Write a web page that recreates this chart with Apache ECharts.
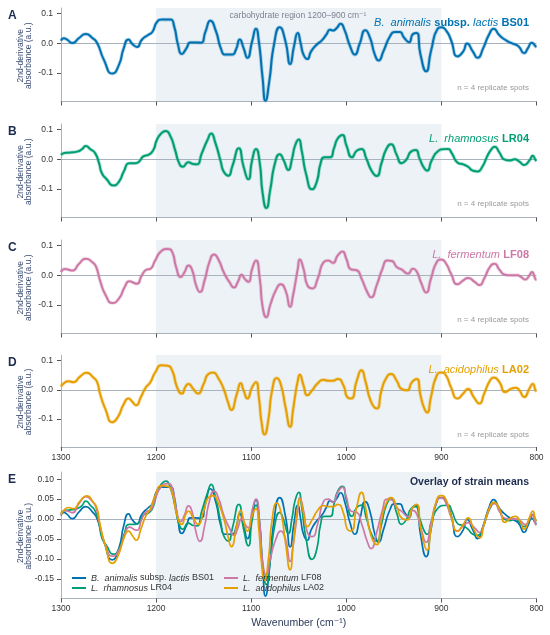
<!DOCTYPE html>
<html>
<head>
<meta charset="utf-8">
<script src="https://cdn.jsdelivr.net/npm/echarts@6/dist/echarts.min.js"></script>
<style>
  html, body { margin: 0; padding: 0; background: #fff; }
  #main { width: 550px; height: 635px; }
</style>
</head>
<body>
<div id="main"></div>
<script>
// 2nd-derivative FTIR means (wavenumber in cm-1)
const wnBS01 = [1300,1297,1294,1288,1281,1274,1267,1262,1255,1246,1239,1234,1229,1225,1220,1215,1208,1204,1199,1194,
  1185,1181,1177,1173,1168,1164,1159,1153,1148,1143,1137,1132,1127,1120,1116,1112,1108,1104,1099,1095,
  1092,1088,1085,1081,1076,1070,1064,1059,1055,1051,1048,1045,1041,1037,1031,1026,1021,1017,1014,1010,
  1006,1002,996,991,986,980,975,970,966,961,954,949,944,939,934,930,926,922,916,911,
  904,900,895,890,883,877,873,867,862,856,850,845,839,832,825,819,813,809,805,801,800];
const absBS01 = [0.009,0.017,0.013,0.001,0.018,0.031,0.018,0.001,-0.055,-0.102,-0.072,-0.016,0.013,-0.002,-0.012,0.012,0.029,0.038,0.072,0.080,
  0.080,0.057,-0.004,-0.036,-0.016,0.003,0.003,0.002,0.040,0.076,0.040,-0.016,-0.038,-0.038,-0.021,0.013,-0.016,-0.049,0.007,0.049,
  0.007,-0.117,-0.193,-0.128,-0.004,0.054,0.007,-0.070,-0.010,0.035,0.000,-0.038,-0.053,-0.027,-0.004,0.009,0.029,0.046,0.043,0.052,
  0.066,0.046,-0.010,-0.038,-0.002,0.044,0.018,-0.038,-0.058,-0.027,0.024,0.038,0.038,0.018,0.004,0.031,0.035,-0.038,-0.094,-0.027,
  0.049,0.054,0.043,0.012,-0.044,-0.027,-0.001,-0.027,-0.049,-0.016,0.029,0.049,0.027,0.010,-0.001,-0.010,-0.033,-0.016,0.002,-0.010,-0.012];

const wnLR04 = [1300,1295,1290,1283,1278,1274,1269,1264,1260,1257,1252,1245,1239,1234,1228,1222,1218,1213,1208,1203,
  1199,1194,1190,1185,1180,1176,1172,1166,1161,1157,1152,1146,1142,1138,1132,1129,1124,1120,1113,1108,
  1103,1099,1095,1091,1088,1084,1080,1075,1070,1066,1061,1057,1054,1050,1047,1042,1036,1031,1027,1023,
  1017,1013,1009,1004,1000,994,989,984,979,973,968,963,958,953,947,942,937,932,927,923,
  918,915,910,903,898,893,889,883,877,872,867,862,857,852,848,844,839,834,828,823,818,813,807,804,801,800];
const absLR04 = [0.015,0.022,0.023,0.026,0.034,0.045,0.034,0.020,-0.013,-0.047,-0.067,-0.088,-0.075,-0.041,-0.013,-0.013,-0.008,0.011,0.015,0.031,
  0.067,0.089,0.095,0.078,0.031,-0.011,-0.025,-0.010,-0.016,-0.017,0.020,0.065,0.087,0.059,-0.008,-0.041,-0.055,-0.025,0.037,-0.025,
  -0.067,-0.002,0.035,-0.013,-0.114,-0.164,-0.103,-0.013,0.017,-0.002,-0.036,0.003,0.045,0.067,0.031,-0.053,-0.101,-0.075,-0.013,0.007,
  0.007,0.037,0.070,0.082,0.048,0.007,0.029,0.035,0.003,-0.041,-0.056,-0.013,0.034,0.051,0.015,-0.013,-0.002,0.026,0.031,0.003,
  -0.030,-0.038,-0.002,0.029,0.034,0.035,0.020,-0.011,-0.017,-0.025,-0.038,-0.041,-0.025,0.009,0.031,0.042,0.023,0.000,-0.004,0.000,-0.008,-0.019,-0.002,0.012,-0.002,-0.005];

const wnLF08 = [1300,1296,1292,1288,1281,1274,1267,1263,1259,1253,1246,1239,1233,1228,1223,1220,1215,1210,1206,1201,
  1195,1188,1183,1179,1174,1170,1166,1162,1158,1154,1149,1144,1139,1134,1129,1123,1118,1114,1110,1107,
  1103,1099,1095,1091,1088,1084,1080,1074,1069,1064,1059,1056,1054,1051,1049,1045,1041,1036,1030,1024,
  1019,1014,1009,1004,1000,995,989,984,978,974,968,962,957,952,947,942,935,930,926,921,
  916,911,905,900,895,890,883,877,872,865,860,855,849,844,839,833,827,820,816,812,807,805,801,800];
const absLF08 = [0.011,0.021,0.019,0.016,0.039,0.056,0.044,0.028,-0.017,-0.067,-0.093,-0.078,-0.039,-0.020,-0.026,-0.028,0.000,0.019,0.022,0.050,
  0.080,0.089,0.078,0.028,-0.006,0.011,0.033,0.017,-0.033,-0.056,-0.017,0.044,0.070,0.050,0.011,-0.022,-0.041,-0.022,0.002,-0.011,
  -0.022,0.022,0.050,-0.011,-0.106,-0.141,-0.100,-0.050,-0.030,-0.050,-0.106,-0.067,-0.033,0.022,0.053,0.022,-0.033,-0.044,-0.011,0.044,
  0.050,0.042,0.067,0.080,0.056,0.020,0.017,-0.011,-0.056,-0.074,-0.033,0.022,0.050,0.048,0.028,0.020,0.006,0.022,0.013,-0.028,
  -0.058,-0.011,0.044,0.053,0.039,0.006,-0.030,-0.017,-0.009,-0.022,-0.033,-0.011,0.028,0.039,0.019,0.002,0.000,0.000,-0.006,-0.014,0.002,0.011,-0.013,-0.015];

const wnLA02 = [1300,1297,1292,1287,1280,1273,1266,1262,1259,1253,1246,1240,1234,1229,1225,1221,1216,1211,1206,1201,
  1194,1188,1183,1178,1173,1169,1166,1161,1156,1150,1145,1140,1135,1129,1124,1121,1115,1111,1108,1104,
  1099,1095,1092,1089,1086,1082,1078,1073,1069,1064,1059,1056,1054,1051,1049,1045,1041,1036,1030,1024,
  1019,1014,1009,1003,999,995,989,984,980,974,968,963,958,953,947,942,936,931,926,922,
  918,915,911,905,900,895,890,883,877,872,866,860,855,849,845,839,833,827,822,818,813,807,804,801,800];
const absLA02 = [0.011,0.022,0.029,0.026,0.045,0.058,0.042,0.026,-0.013,-0.069,-0.111,-0.092,-0.049,-0.030,-0.041,-0.053,-0.025,0.007,0.026,0.059,
  0.084,0.082,0.065,0.009,-0.013,0.011,0.020,0.003,-0.013,0.020,0.054,0.059,0.042,0.003,-0.047,-0.069,-0.013,0.022,-0.002,-0.030,
  0.009,0.026,-0.025,-0.114,-0.153,-0.103,-0.002,0.040,0.020,-0.058,-0.127,-0.069,-0.025,0.031,0.051,0.015,-0.019,-0.002,0.022,0.034,
  0.031,0.031,0.037,0.015,-0.025,-0.030,0.031,0.067,0.031,-0.041,-0.064,-0.002,0.040,0.054,0.031,0.003,-0.002,0.026,0.037,-0.019,
  -0.064,-0.078,-0.025,0.048,0.059,0.048,0.009,-0.030,-0.013,0.003,-0.025,-0.047,-0.013,0.031,0.042,0.026,-0.008,0.003,0.007,-0.002,-0.025,0.007,0.020,-0.002,-0.005];

const xTicks = [1300, 1200, 1100, 1000, 900, 800];
const yTicksPanel = [-0.1, 0, 0.1];
const yTicksOverlay = [-0.15, -0.1, -0.05, 0, 0.05, 0.1];
const carbRegion = [1200, 900];
const panelLetters = ['A', 'B', 'C', 'D', 'E'];

const FONT = '"Liberation Sans", Arial, "DejaVu Sans", sans-serif';
const AXIS_COLOR = '#aab2bd';
const SHADE = '#edf2f6';

const strains = [
  { key: 'BS01', wn: wnBS01, ab: absBS01, color: '#0072B2',
    title: '{i|B.  animalis} {b|subsp.} {i|lactis} {b|BS01}',
    legend: '{i|B.  animalis} {n|subsp.} {i|lactis} {n|BS01}' },
  { key: 'LR04', wn: wnLR04, ab: absLR04, color: '#009E73',
    title: '{i|L.  rhamnosus} {b|LR04}',
    legend: '{i|L.  rhamnosus} {n|LR04}' },
  { key: 'LF08', wn: wnLF08, ab: absLF08, color: '#CC79A7',
    title: '{i|L.  fermentum} {b|LF08}',
    legend: '{i|L.  fermentum} {n|LF08}' },
  { key: 'LA02', wn: wnLA02, ab: absLA02, color: '#E69F00',
    title: '{i|L.  acidophilus} {b|LA02}',
    legend: '{i|L.  acidophilus} {n|LA02}' }
];

const tops = [8, 124, 240, 355, 472];
const heights = [93.5, 93.5, 93.5, 92, 126.5];
const LEFT = 61, RIGHT = 13.5;

function pairs(wn, ab) {
  return wn.map((w, i) => [w, ab[i]]);
}

const grids = tops.map((t, i) => ({ left: LEFT, right: RIGHT, top: t, height: heights[i] }));

const xAxes = tops.map((t, i) => ({
  type: 'value', gridIndex: i, min: 800, max: 1300, interval: 100, inverse: true,
  axisLine: { show: true, onZero: false, lineStyle: { color: AXIS_COLOR, width: 1 } },
  axisTick: { show: true, length: 4, customValues: xTicks, lineStyle: { color: '#555' } },
  axisLabel: {
    show: i >= 3, customValues: xTicks, margin: 6, fontSize: 8.5, color: '#333', fontFamily: FONT,
    formatter: v => String(v)
  },
  splitLine: { show: false },
  name: i === 4 ? 'Wavenumber (cm⁻¹)' : '',
  nameLocation: 'middle', nameGap: 19,
  nameTextStyle: { fontSize: 10.5, color: '#2b3a58', fontFamily: FONT }
}));

const yAxes = tops.map((t, i) => {
  const overlay = i === 4;
  const ticks = overlay ? yTicksOverlay : yTicksPanel;
  return {
    type: 'value', gridIndex: i,
    min: overlay ? -0.199 : -0.196, max: overlay ? 0.118 : 0.119,
    axisLine: { show: true, lineStyle: { color: AXIS_COLOR, width: 1 } },
    axisTick: { show: true, length: 4, customValues: ticks, lineStyle: { color: '#555' } },
    axisLabel: {
      customValues: ticks, margin: overlay ? 7 : 8, fontSize: 8.5, color: '#333', fontFamily: FONT,
      formatter: v => v.toFixed(overlay ? 2 : 1)
    },
    splitLine: { show: false }
  };
});

const series = [];
// shaded carbohydrate window + zero line, one per panel
tops.forEach((t, i) => {
  series.push({
    type: 'line', xAxisIndex: i, yAxisIndex: i, data: [], silent: true, z: 1,
    markArea: {
      silent: true, z: 0,
      itemStyle: { color: SHADE },
      data: [[{ xAxis: carbRegion[0] }, { xAxis: carbRegion[1] }]]
    },
    markLine: {
      silent: true, z: 1, symbol: 'none', label: { show: false },
      lineStyle: { color: '#a9b3be', width: 1, type: 'solid' },
      data: [{ yAxis: 0 }]
    }
  });
});

strains.forEach((s, i) => {
  // soft halo standing in for the replicate spread
  series.push({
    name: s.key + ' spread', type: 'line', xAxisIndex: i, yAxisIndex: i, z: 2, silent: true,
    data: pairs(s.wn, s.ab), smooth: 0.6, showSymbol: false,
    lineStyle: { color: s.color, width: 3.6, opacity: 0.3 }
  });
  series.push({
    name: s.key + ' mean', type: 'line', xAxisIndex: i, yAxisIndex: i, z: 3,
    data: pairs(s.wn, s.ab), smooth: 0.6, showSymbol: false,
    lineStyle: { color: s.color, width: 2 }
  });
});
strains.forEach(s => {
  series.push({
    name: s.key, type: 'line', xAxisIndex: 4, yAxisIndex: 4, z: 3,
    data: pairs(s.wn, s.ab), smooth: 0.6, showSymbol: false,
    itemStyle: { color: s.color },
    lineStyle: { color: s.color, width: 1.7 }
  });
});

const legendRich = {
  i: { fontStyle: 'italic', fontSize: 9, color: '#333', fontFamily: FONT },
  n: { fontSize: 9, color: '#333', fontFamily: FONT }
};
function legendBox(keys, left) {
  return {
    data: keys, left: left, top: 568, orient: 'vertical', z: 20,
    itemWidth: 14, itemHeight: 2, itemGap: 0, icon: 'rect',
    formatter: name => strains.find(s => s.key === name).legend,
    textStyle: { fontSize: 9, lineHeight: 10, color: '#333', fontFamily: FONT, rich: legendRich }
  };
}

const graphics = [];
tops.forEach((t, i) => {
  graphics.push({
    type: 'text', left: 8, top: t + 2, z: 100,
    style: { text: panelLetters[i], fontSize: 12, fontWeight: 'bold', fill: '#1d2b4f', fontFamily: FONT }
  });
  graphics.push({
    type: 'text', x: 24.5, y: t + heights[i] / 2 + 1, rotation: Math.PI / 2, z: 100,
    style: {
      text: '2nd-derivative\nabsorbance (a.u.)', align: 'center', verticalAlign: 'middle',
      fontSize: 8.5, lineHeight: 8, fill: '#3b4d74', fontFamily: FONT
    }
  });
});
strains.forEach((s, i) => {
  graphics.push({
    type: 'text', x: 529, y: tops[i] + 14.5, z: 100,
    style: {
      text: s.title, align: 'right', verticalAlign: 'middle', fontFamily: FONT,
      rich: {
        i: { fontStyle: 'italic', fontSize: 11, fill: s.color, fontFamily: FONT },
        b: { fontWeight: 'bold', fontSize: 11, fill: s.color, fontFamily: FONT }
      }
    }
  });
  graphics.push({
    type: 'text', x: 529, y: tops[i] + 80, z: 100,
    style: { text: 'n = 4 replicate spots', align: 'right', verticalAlign: 'middle', fontSize: 8, fill: '#9a9a9a', fontFamily: FONT }
  });
});
graphics.push({
  type: 'text', x: 298, y: 15.5, z: 100,
  style: { text: 'carbohydrate region 1200–900 cm⁻¹', align: 'center', verticalAlign: 'middle', fontSize: 8.5, fill: '#7a8390', fontFamily: FONT }
});
graphics.push({
  type: 'text', x: 529, y: 482, z: 100,
  style: { text: 'Overlay of strain means', align: 'right', verticalAlign: 'middle', fontSize: 10.5, fontWeight: 'bold', fill: '#1d2b4f', fontFamily: FONT }
});

const chart = echarts.init(document.getElementById('main'), null, { renderer: 'canvas' });
chart.setOption({
  animation: false,
  backgroundColor: '#fff',
  grid: grids,
  xAxis: xAxes,
  yAxis: yAxes,
  legend: [legendBox(['BS01', 'LR04'], 67), legendBox(['LF08', 'LA02'], 219)],
  series: series,
  graphic: graphics
});
</script>
</body>
</html>
